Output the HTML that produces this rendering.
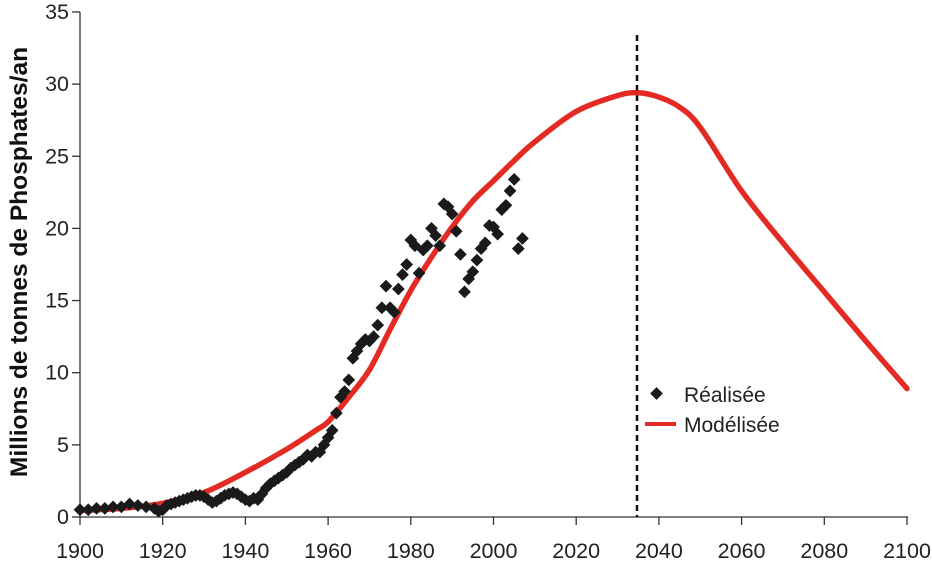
<!DOCTYPE html>
<html><head><meta charset="utf-8"><style>
html,body{margin:0;padding:0;background:#fff;}
svg{display:block;font-family:"Liberation Sans",Arial,sans-serif;}
</style></head><body>
<svg id="c" width="932" height="564" viewBox="0 0 932 564" xmlns="http://www.w3.org/2000/svg">
<g id="axes" stroke="#333" stroke-width="1.3" fill="none">
<line x1="80" y1="12" x2="80" y2="517"/>
<line x1="80" y1="517" x2="908" y2="517"/>
</g>
<g id="ticks" stroke="#333" stroke-width="1.3"></g>
<g id="labels" font-size="21.5" fill="#222"></g>
<text transform="translate(27,262) rotate(-90)" text-anchor="middle" font-size="24.5" font-weight="bold" fill="#111">Millions de tonnes de Phosphates/an</text>
<line x1="637" y1="35" x2="637" y2="517" stroke="#111" stroke-width="2.5" stroke-dasharray="6,4"/>
<path id="curve" fill="none" stroke="#e32b23" stroke-width="5.5" stroke-linejoin="round" stroke-linecap="round"/>
<g id="pts" fill="#1a1a1a"></g>
<rect x="652" y="389" width="9" height="9" transform="rotate(45 656.5 393.5)" fill="#1a1a1a"/>
<text x="684" y="402" font-size="21" fill="#222">Réalisée</text>
<line x1="645" y1="424" x2="676" y2="424" stroke="#e32b23" stroke-width="4"/>
<text x="684" y="432" font-size="21" fill="#222">Modélisée</text>
</svg>
<script>
var X=function(y){return 80+(y-1900)*4.135},Y=function(v){return 517-v*14.43};
var t=document.getElementById('ticks'),l=document.getElementById('labels'),ns='http://www.w3.org/2000/svg';
function el(p,n,a,txt){var e=document.createElementNS(ns,n);for(var k in a)e.setAttribute(k,a[k]);if(txt)e.textContent=txt;p.appendChild(e);}
for(var v=0;v<=35;v+=5){el(t,'line',{x1:72,x2:80,y1:Y(v),y2:Y(v)});el(l,'text',{x:69,y:Y(v)+7,'text-anchor':'end'},''+v);}
for(var y=1900;y<=2100;y+=20){el(t,'line',{x1:X(y),x2:X(y),y1:517,y2:525});el(l,'text',{x:X(y),y:558,'text-anchor':'middle'},''+y);}
var c=[[1900,0.45],[1910,0.6],[1920,0.95],[1930,1.7],[1940,3.1],[1950,4.7],[1957,6.0],[1960,6.6],[1965,8.3],[1970,10.2],[1975,13],[1980,15.7],[1985,18],[1990,20.1],[1995,21.9],[2000,23.3],[2005,24.7],[2010,26],[2020,28.1],[2030,29.2],[2035,29.4],[2040,29.1],[2045,28.4],[2050,27],[2060,22.6],[2070,19],[2080,15.6],[2090,12.2],[2100,8.9]];
var P=c.map(function(p){return [X(p[0]),Y(p[1])]});
var s='M'+P[0][0]+','+P[0][1];
for(var i=0;i<P.length-1;i++){var p0=P[Math.max(0,i-1)],p1=P[i],p2=P[i+1],p3=P[Math.min(P.length-1,i+2)];
s+=' C'+(p1[0]+(p2[0]-p0[0])/6)+','+(p1[1]+(p2[1]-p0[1])/6)+' '+(p2[0]-(p3[0]-p1[0])/6)+','+(p2[1]-(p3[1]-p1[1])/6)+' '+p2[0]+','+p2[1];}
document.getElementById('curve').setAttribute('d',s);
var d={1900:0.5,1902:0.5,1904:0.6,1906:0.6,1908:0.7,1910:0.7,1912:0.9,1914:0.8,1916:0.7,1918:0.6,1919:0.4,1920:0.5,1921:0.8,1922:0.9,1923:1.0,1924:1.1,1925:1.2,1926:1.3,1927:1.4,1928:1.5,1929:1.5,1930:1.4,1931:1.2,1932:1.0,1933:1.1,1934:1.3,1935:1.5,1936:1.6,1937:1.7,1938:1.6,1939:1.4,1940:1.2,1941:1.1,1942:1.3,1943:1.2,1944:1.6,1945:2.0,1946:2.3,1947:2.5,1948:2.7,1949:2.9,1950:3.1,1951:3.4,1952:3.6,1953:3.8,1954:4.0,1955:4.3,1956:4.2,1957:4.5,1958:4.5,1959:5.0,1960:5.5,1961:6.0,1962:7.2,1963:8.3,1964:8.7,1965:9.5,1966:11,1967:11.5,1968:12,1969:12.3,1970:12.2,1971:12.5,1972:13.3,1973:14.5,1974:16,1975:14.5,1976:14.2,1977:15.8,1978:16.8,1979:17.5,1980:19.2,1981:18.8,1982:16.9,1983:18.5,1984:18.8,1985:20,1986:19.5,1987:18.8,1988:21.7,1989:21.5,1990:21,1991:19.8,1992:18.2,1993:15.6,1994:16.5,1995:17,1996:17.8,1997:18.6,1998:19,1999:20.2,2000:20.1,2001:19.6,2002:21.3,2003:21.6,2004:22.6,2005:23.4,2006:18.6,2007:19.3};
var g=document.getElementById('pts');
for(var k in d){var x=X(+k),yy=Y(d[k]);el(g,'rect',{x:x-4.5,y:yy-4.5,width:9,height:9,transform:'rotate(45 '+x+' '+yy+')'});}
</script>
</body></html>
